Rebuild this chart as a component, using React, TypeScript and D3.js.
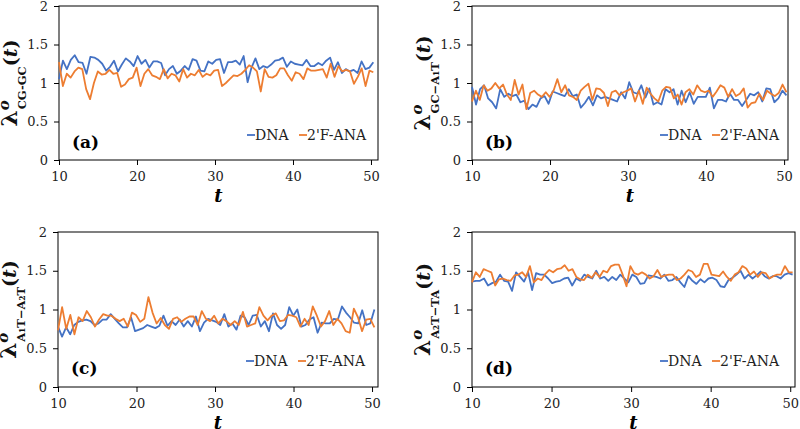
import React, { useEffect, useRef } from "react";
import * as d3 from "d3";

// sampled lambda^o(t) values, t from 10 to ~50.3
const dnaA = [1.05, 1.29, 1.18, 1.30, 1.36, 1.27, 1.26, 1.12, 1.34, 1.33, 1.30, 1.25, 1.16, 1.21, 1.29, 1.15, 1.24, 1.32, 1.28, 1.22, 1.35, 1.25, 1.30, 1.20, 1.28, 1.28, 1.26, 1.10, 1.18, 1.22, 1.12, 1.16, 1.22, 1.17, 1.31, 1.29, 1.16, 1.15, 1.28, 1.25, 1.30, 1.31, 1.13, 1.27, 1.27, 1.29, 1.24, 1.35, 1.01, 1.20, 1.32, 1.18, 1.22, 1.20, 1.24, 1.29, 1.30, 1.33, 1.21, 1.28, 1.25, 1.24, 1.23, 1.30, 1.22, 1.22, 1.26, 1.23, 1.29, 1.33, 1.17, 1.27, 1.13, 1.18, 1.15, 1.17, 1.13, 1.28, 1.18, 1.20, 1.27];
const anaA = [1.27, 0.96, 1.12, 1.07, 1.15, 1.20, 1.18, 0.92, 0.79, 1.00, 1.15, 1.11, 1.12, 1.17, 1.12, 1.13, 0.95, 0.98, 1.05, 1.07, 1.20, 0.96, 1.12, 1.18, 1.10, 1.08, 1.05, 1.18, 1.06, 1.12, 1.10, 1.02, 1.18, 1.07, 1.12, 1.10, 1.17, 1.08, 1.12, 1.10, 1.16, 1.17, 0.96, 1.00, 1.05, 1.10, 1.09, 1.12, 1.17, 1.23, 1.20, 1.15, 0.89, 1.18, 1.08, 1.07, 1.10, 1.19, 1.19, 1.10, 1.03, 1.14, 1.12, 1.05, 1.19, 1.16, 1.16, 1.17, 1.18, 1.07, 1.25, 1.08, 1.22, 1.15, 1.17, 1.15, 0.99, 1.08, 1.19, 0.96, 1.16, 1.14];

const dnaB = [0.95, 0.72, 0.92, 0.97, 0.80, 0.75, 0.67, 0.92, 0.82, 0.86, 0.83, 0.85, 0.75, 0.77, 0.66, 0.72, 0.69, 0.80, 0.83, 0.73, 0.89, 0.87, 0.85, 0.83, 0.92, 0.83, 0.85, 0.68, 0.74, 0.82, 0.71, 0.84, 0.80, 0.82, 0.80, 0.78, 0.76, 0.88, 0.80, 1.01, 0.88, 0.86, 0.97, 0.81, 0.93, 0.72, 0.75, 0.72, 0.92, 0.88, 0.92, 0.72, 0.90, 0.75, 0.88, 0.73, 0.82, 0.82, 0.82, 0.94, 0.67, 0.78, 0.78, 0.76, 0.86, 0.78, 0.78, 0.70, 0.78, 0.86, 0.84, 0.88, 0.76, 0.93, 0.92, 0.75, 0.80, 0.90, 0.84];
const anaB = [0.76, 0.90, 0.78, 0.97, 0.90, 0.93, 1.00, 0.93, 0.98, 0.85, 0.78, 1.04, 0.85, 0.98, 0.66, 0.87, 0.90, 0.85, 0.82, 0.88, 0.82, 0.90, 1.05, 0.88, 0.97, 0.84, 0.82, 0.78, 0.90, 0.95, 0.99, 0.78, 0.93, 0.92, 0.87, 0.70, 0.88, 0.90, 0.84, 0.88, 0.90, 0.93, 0.76, 0.90, 0.73, 0.94, 0.86, 0.80, 0.76, 0.90, 0.95, 0.94, 0.80, 0.85, 0.72, 0.88, 0.92, 0.85, 0.97, 0.90, 0.88, 0.90, 0.82, 0.89, 0.97, 0.94, 0.82, 0.92, 0.83, 0.86, 0.93, 0.68, 0.74, 0.75, 0.86, 0.78, 0.90, 0.86, 0.83, 0.87, 0.98, 0.88];

const dnaC = [0.78, 0.65, 0.77, 0.68, 0.80, 0.84, 0.86, 0.87, 0.85, 0.80, 0.82, 0.87, 0.87, 0.94, 0.88, 0.82, 0.77, 0.77, 0.90, 0.72, 0.74, 0.76, 0.80, 0.78, 0.76, 0.79, 0.92, 0.79, 0.85, 0.80, 0.87, 0.78, 0.85, 0.78, 0.91, 0.72, 0.83, 0.88, 0.86, 0.84, 0.80, 0.94, 0.78, 0.82, 0.74, 0.92, 0.90, 0.80, 0.92, 0.93, 0.78, 0.85, 0.72, 0.95, 0.80, 0.75, 0.80, 1.03, 0.92, 1.00, 0.78, 0.80, 0.87, 0.90, 0.70, 0.83, 0.82, 0.82, 0.88, 0.87, 1.04, 0.96, 0.90, 0.83, 0.82, 0.99, 0.80, 0.82, 1.00];
const anaC = [0.73, 1.03, 0.75, 0.93, 0.68, 0.90, 0.85, 0.98, 0.90, 0.78, 0.87, 0.94, 0.92, 0.92, 0.88, 0.85, 0.88, 0.78, 0.96, 0.93, 0.84, 0.88, 1.16, 0.96, 0.82, 0.89, 0.80, 0.75, 0.88, 0.90, 0.84, 0.88, 0.91, 0.91, 0.80, 0.98, 0.88, 0.85, 0.92, 0.82, 0.88, 0.85, 0.80, 0.85, 0.80, 0.97, 0.78, 0.80, 0.82, 1.03, 0.92, 0.86, 0.92, 0.95, 0.85, 0.86, 0.93, 0.92, 0.90, 0.78, 0.88, 0.80, 1.04, 0.92, 0.78, 0.85, 0.98, 0.80, 0.88, 0.82, 0.72, 0.70, 1.01, 0.90, 0.72, 0.87, 0.88, 0.77];

const dnaD = [1.36, 1.37, 1.37, 1.40, 1.31, 1.34, 1.36, 1.45, 1.37, 1.36, 1.24, 1.48, 1.42, 1.36, 1.48, 1.25, 1.47, 1.45, 1.45, 1.40, 1.34, 1.36, 1.37, 1.40, 1.41, 1.31, 1.40, 1.37, 1.45, 1.42, 1.40, 1.50, 1.40, 1.42, 1.37, 1.42, 1.38, 1.45, 1.40, 1.35, 1.45, 1.42, 1.33, 1.34, 1.44, 1.43, 1.42, 1.40, 1.45, 1.37, 1.38, 1.42, 1.35, 1.29, 1.43, 1.37, 1.33, 1.39, 1.35, 1.40, 1.41, 1.38, 1.30, 1.29, 1.38, 1.41, 1.45, 1.50, 1.40, 1.45, 1.40, 1.44, 1.49, 1.43, 1.40, 1.43, 1.43, 1.40, 1.45, 1.47, 1.45];
const anaD = [1.35, 1.48, 1.42, 1.52, 1.50, 1.48, 1.31, 1.39, 1.40, 1.38, 1.37, 1.44, 1.45, 1.48, 1.42, 1.56, 1.35, 1.40, 1.38, 1.46, 1.51, 1.48, 1.52, 1.53, 1.57, 1.50, 1.52, 1.42, 1.39, 1.38, 1.45, 1.41, 1.48, 1.42, 1.50, 1.48, 1.56, 1.58, 1.58, 1.45, 1.30, 1.56, 1.47, 1.45, 1.48, 1.45, 1.40, 1.43, 1.51, 1.42, 1.44, 1.45, 1.45, 1.38, 1.40, 1.45, 1.51, 1.49, 1.42, 1.45, 1.59, 1.59, 1.45, 1.44, 1.43, 1.49, 1.42, 1.37, 1.45, 1.48, 1.56, 1.53, 1.45, 1.49, 1.42, 1.48, 1.47, 1.40, 1.43, 1.45, 1.45, 1.56, 1.48, 1.48];

const xTicks = [10, 20, 30, 40, 50];
const yTicks = [0, 0.5, 1, 1.5, 2];
const seriesNames = ["DNA", "2'F-ANA"];
const panelTags = ["(a)", "(b)", "(c)", "(d)"];
const subLabels = ["CG-GC", "GC\u2212A\u2081T", "A\u2081T\u2212A\u2082T", "A\u2082T\u2212TA"];

const T_FIRST = 10;
const T_LAST = 50.3;
const COLORS = ["#4472C4", "#ED7D31"];
const FONT = "'DejaVu Serif', serif";

const panels = [
    { left: 59, top: 6, width: 319, height: 154, xMax: 50.9, series: [dnaA, anaA] },
    { left: 472, top: 6, width: 316, height: 154, xMax: 50.5, series: [dnaB, anaB] },
    { left: 58, top: 232, width: 320, height: 155, xMax: 50.76, series: [dnaC, anaC] },
    { left: 472, top: 232, width: 323, height: 155, xMax: 50.6, series: [dnaD, anaD] },
];

const App = () => {
    const ref = useRef<SVGSVGElement>(null);

    useEffect(() => {
        const svg = d3.select(ref.current);
        svg.selectAll("*").remove();

        panels.forEach((p, pi) => {
            const g = svg.append("g").attr("transform", `translate(${p.left},${p.top})`);

            const x = d3.scaleLinear().domain([10, p.xMax]).range([0, p.width]);
            const y = d3.scaleLinear().domain([0, 2]).range([p.height, 0]);

            // frame
            g.append("rect")
                .attr("width", p.width)
                .attr("height", p.height)
                .attr("fill", "white")
                .attr("stroke", "black")
                .attr("stroke-width", 1);

            // axes
            const xAxis = g.append("g")
                .attr("transform", `translate(0,${p.height})`)
                .call(d3.axisBottom(x).tickValues(xTicks).tickSize(5).tickPadding(7).tickSizeOuter(0));
            const yAxis = g.append("g")
                .call(d3.axisLeft(y).tickValues(yTicks).tickSize(5).tickPadding(6).tickSizeOuter(0).tickFormat(d3.format("")));
            [xAxis, yAxis].forEach(a => {
                a.select(".domain").remove();
                a.selectAll("text").attr("font-family", FONT).attr("font-size", 13).attr("fill", "#222");
                a.selectAll("line").attr("stroke", "black");
            });

            // lines
            p.series.forEach((vals, si) => {
                const idx = d3.scaleLinear().domain([0, vals.length - 1]).range([T_FIRST, T_LAST]);
                const line = d3.line<number>()
                    .x((d, i) => x(idx(i)))
                    .y(d => y(d));
                g.append("path")
                    .datum(vals)
                    .attr("d", line)
                    .attr("fill", "none")
                    .attr("stroke", COLORS[si])
                    .attr("stroke-width", 1.8)
                    .attr("stroke-linejoin", "round");
            });

            // legend
            const lg = g.append("g").attr("transform", `translate(188,129)`);
            seriesNames.forEach((name, si) => {
                const ox = si * 52;
                lg.append("line")
                    .attr("x1", ox).attr("x2", ox + 8)
                    .attr("stroke", COLORS[si]).attr("stroke-width", 1.8);
                lg.append("text")
                    .attr("x", ox + 8)
                    .attr("dy", "0.35em")
                    .attr("font-family", FONT)
                    .attr("font-size", 14)
                    .attr("fill", "#222")
                    .text(name);
            });

            // panel tag
            g.append("text")
                .attr("x", 13)
                .attr("y", 142)
                .attr("font-family", FONT)
                .attr("font-size", 17)
                .attr("font-weight", "bold")
                .text(panelTags[pi]);

            // x title
            g.append("text")
                .attr("x", p.width / 2)
                .attr("y", p.height + 42)
                .attr("text-anchor", "middle")
                .attr("font-family", FONT)
                .attr("font-size", 18)
                .attr("font-weight", "bold")
                .attr("font-style", "italic")
                .text("t");

            // y title
            const yt = svg.append("text")
                .attr("transform", `translate(${p.left - 42},${p.top + p.height / 2}) rotate(-90)`)
                .attr("text-anchor", "middle")
                .attr("font-family", FONT)
                .attr("font-weight", "bold")
                .attr("fill", "#111");
            yt.append("tspan").attr("font-size", 23).text("\u03bb");
            yt.append("tspan").attr("font-size", 15).attr("font-style", "italic").attr("dy", -8).text("o");
            yt.append("tspan").attr("font-size", 11.5).attr("dx", -9).attr("dy", 17).text(subLabels[pi]);
            yt.append("tspan").attr("font-size", 19).attr("dy", -9).text("(");
            yt.append("tspan").attr("font-size", 19).attr("font-style", "italic").text("t");
            yt.append("tspan").attr("font-size", 19).text(")");
        });
    }, []);

    return (
        <svg
            ref={ref}
            width={800}
            height={429}
            style={{ position: "absolute", left: 0, top: 0, background: "white" }}
        />
    );
};

export default App;
